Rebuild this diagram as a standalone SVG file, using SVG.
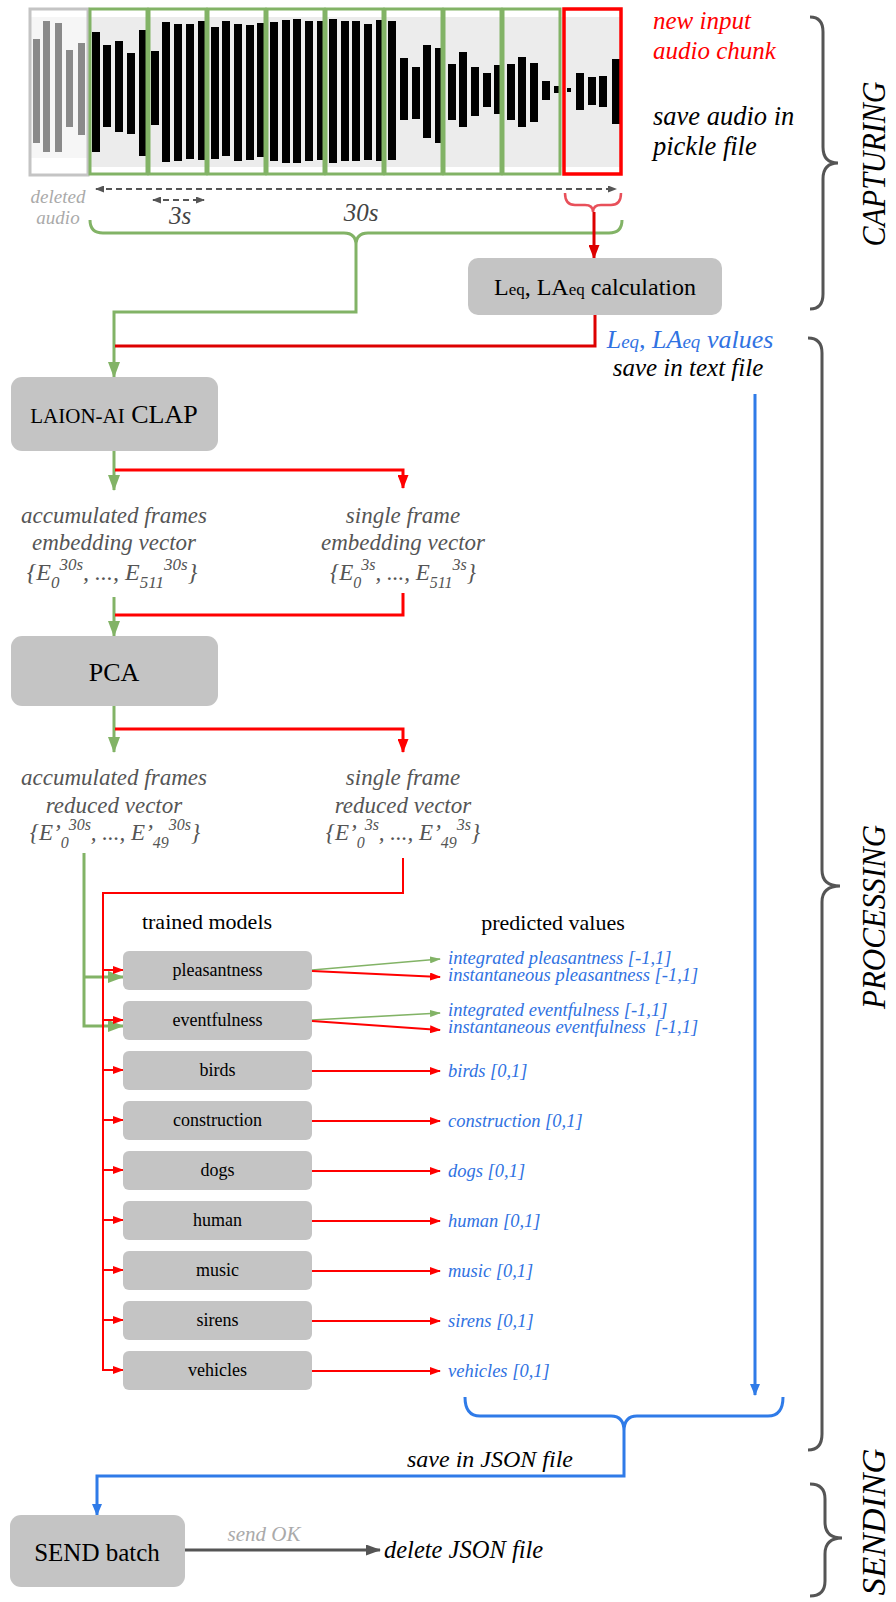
<svg xmlns="http://www.w3.org/2000/svg" width="896" height="1602" viewBox="0 0 896 1602" font-family="'Liberation Serif', 'Times New Roman', serif">
<defs>
<style>
text{font-family:"Liberation Serif","Times New Roman",serif;}
.it{font-style:italic}
.box{fill:#c4c4c4}
.g{stroke:#82b366;fill:none;stroke-width:3}
.gs{stroke:#82b366;fill:none;stroke-width:1.6}
.r{stroke:#ff0000;fill:none;stroke-width:3}
.rd{stroke:#dd0000;fill:none;stroke-width:3}
.r2{stroke:#ff0000;fill:none;stroke-width:2}
.b{stroke:#2f7be8;fill:none;stroke-width:3}
.brace{stroke:#555;fill:none;stroke-width:3}
.bar{fill:#000}
.dbar{fill:#8a8a8a}
.grt{fill:#555}
.blu{fill:#3072e2}
.lab{font-size:18px;fill:#000}
.pv{font-size:18.5px;fill:#3072e2;font-style:italic}
.gbox{fill:none;stroke:#82b366;stroke-width:3}
</style>
<marker id="mG" viewBox="0 0 16 12" refX="15" refY="6" markerWidth="16" markerHeight="12" markerUnits="userSpaceOnUse" orient="auto"><path d="M0,0 L16,6 L0,12 z" fill="#82b366"/></marker>
<marker id="mGs" viewBox="0 0 11 7" refX="10" refY="3.5" markerWidth="11" markerHeight="7" markerUnits="userSpaceOnUse" orient="auto"><path d="M0,0 L11,3.5 L0,7 z" fill="#82b366"/></marker>
<marker id="mR" viewBox="0 0 14 11" refX="13" refY="5.5" markerWidth="14" markerHeight="11" markerUnits="userSpaceOnUse" orient="auto"><path d="M0,0 L14,5.5 L0,11 z" fill="#ff0000"/></marker>
<marker id="mRd" viewBox="0 0 14 11" refX="13" refY="5.5" markerWidth="14" markerHeight="11" markerUnits="userSpaceOnUse" orient="auto"><path d="M0,0 L14,5.5 L0,11 z" fill="#dd0000"/></marker>
<marker id="mRs" viewBox="0 0 11 8" refX="10" refY="4" markerWidth="11" markerHeight="8" markerUnits="userSpaceOnUse" orient="auto"><path d="M0,0 L11,4 L0,8 z" fill="#ff0000"/></marker>
<marker id="mB" viewBox="0 0 12 10" refX="11" refY="5" markerWidth="12" markerHeight="10" markerUnits="userSpaceOnUse" orient="auto"><path d="M0,0 L12,5 L0,10 z" fill="#2f7be8"/></marker>
<marker id="mK" viewBox="0 0 15 11" refX="14" refY="5.5" markerWidth="15" markerHeight="11" markerUnits="userSpaceOnUse" orient="auto"><path d="M0,0 L15,5.5 L0,11 z" fill="#555"/></marker>
<marker id="mD" viewBox="0 0 9 7" refX="8" refY="3.5" markerWidth="9" markerHeight="7" markerUnits="userSpaceOnUse" orient="auto-start-reverse"><path d="M0,0 L9,3.5 L0,7 z" fill="#555"/></marker>
</defs>
<rect width="896" height="1602" fill="#fff"/>

<g id="audio">
<rect x="30" y="17" width="58" height="141" fill="#f6f6f6"/>
<rect x="90" y="17" width="531" height="150" fill="#ececec"/>
<rect class="dbar" x="33" y="39" width="7" height="104"/>
<rect class="dbar" x="43" y="21" width="7" height="131"/>
<rect class="dbar" x="55" y="23" width="7" height="129"/>
<rect class="dbar" x="66" y="50" width="7" height="77"/>
<rect class="dbar" x="78" y="43" width="7" height="92"/>
<rect class="bar" x="92" y="32" width="8" height="120"/>
<rect class="bar" x="103" y="45" width="8" height="82"/>
<rect class="bar" x="115" y="41" width="8" height="91"/>
<rect class="bar" x="127" y="53" width="8" height="81"/>
<rect class="bar" x="139" y="30" width="8" height="126"/>
<rect class="bar" x="151" y="51" width="8" height="74"/>
<rect class="bar" x="162" y="22" width="8" height="140"/>
<rect class="bar" x="174" y="24" width="8" height="137"/>
<rect class="bar" x="186" y="24" width="8" height="135"/>
<rect class="bar" x="198" y="21" width="8" height="139"/>
<rect class="bar" x="211" y="27" width="8" height="132"/>
<rect class="bar" x="222" y="21" width="8" height="135"/>
<rect class="bar" x="234" y="24" width="8" height="137"/>
<rect class="bar" x="246" y="25" width="8" height="135"/>
<rect class="bar" x="257" y="23" width="8" height="134"/>
<rect class="bar" x="270" y="22" width="8" height="139"/>
<rect class="bar" x="282" y="20" width="8" height="143"/>
<rect class="bar" x="293" y="19" width="8" height="144"/>
<rect class="bar" x="305" y="21" width="8" height="140"/>
<rect class="bar" x="317" y="21" width="8" height="139"/>
<rect class="bar" x="329" y="19" width="8" height="144"/>
<rect class="bar" x="341" y="21" width="8" height="140"/>
<rect class="bar" x="352" y="21" width="8" height="140"/>
<rect class="bar" x="364" y="24" width="8" height="136"/>
<rect class="bar" x="376" y="20" width="8" height="141"/>
<rect class="bar" x="388" y="21" width="8" height="139"/>
<rect class="bar" x="400" y="58" width="8" height="62"/>
<rect class="bar" x="412" y="67" width="8" height="52"/>
<rect class="bar" x="423" y="45" width="8" height="93"/>
<rect class="bar" x="435" y="48" width="8" height="95"/>
<rect class="bar" x="448" y="64" width="8" height="56"/>
<rect class="bar" x="459" y="52" width="8" height="75"/>
<rect class="bar" x="471" y="67" width="8" height="49"/>
<rect class="bar" x="483" y="73" width="8" height="34"/>
<rect class="bar" x="494" y="65" width="8" height="49"/>
<rect class="bar" x="507" y="64" width="8" height="56"/>
<rect class="bar" x="518" y="57" width="8" height="70"/>
<rect class="bar" x="530" y="63" width="8" height="59"/>
<rect class="bar" x="542" y="81" width="8" height="19"/>
<rect class="bar" x="554" y="86" width="7" height="7"/>
<rect class="bar" x="567" y="88" width="4" height="4"/>
<rect class="bar" x="576" y="73" width="8" height="37"/>
<rect class="bar" x="588" y="77" width="8" height="28"/>
<rect class="bar" x="599" y="76" width="8" height="31"/>
<rect class="bar" x="612" y="59" width="8" height="65"/>
<rect x="30" y="9" width="58" height="166" fill="none" stroke="#c4c4c4" stroke-width="3"/>
<rect class="gbox" x="90" y="9" width="57" height="165"/>
<rect class="gbox" x="149" y="9" width="57" height="165"/>
<rect class="gbox" x="208" y="9" width="57" height="165"/>
<rect class="gbox" x="267" y="9" width="57" height="165"/>
<rect class="gbox" x="326" y="9" width="57" height="165"/>
<rect class="gbox" x="385" y="9" width="57" height="165"/>
<rect class="gbox" x="444" y="9" width="57" height="165"/>
<rect class="gbox" x="503" y="9" width="57" height="165"/>
<rect x="564" y="9" width="57" height="165" fill="none" stroke="#ff0000" stroke-width="3.5"/>
</g>

<g id="audio-labels">
<text class="it" x="653" y="29" font-size="25" fill="#ff0000">new input</text>
<text class="it" x="653" y="59" font-size="25" fill="#ff0000">audio chunk</text>
<text class="it" x="653" y="125" font-size="26.5" fill="#000">save audio in</text>
<text class="it" x="653" y="155" font-size="26.5" fill="#000">pickle file</text>
<text class="it" x="58" y="203" font-size="19" fill="#aaaaaa" text-anchor="middle">deleted</text>
<text class="it" x="58" y="224" font-size="19" fill="#aaaaaa" text-anchor="middle">audio</text>
<text class="it" x="180" y="224" font-size="25" fill="#444" text-anchor="middle">3s</text>
<text class="it" x="361" y="221" font-size="25" fill="#444" text-anchor="middle">30s</text>
</g>

<g id="braces">
<path d="M90,220 Q90,233 103,233 L344,233 Q356,233 356,245 Q356,233 368,233 L609,233 Q622,233 622,220" class="g"/>
<path d="M565,193 Q565,205 575,205 L585,205 Q593,205 593,212 Q593,205 601,205 L611,205 Q621,205 621,193" fill="none" stroke="#e8505a" stroke-width="2.5"/>
<path d="M465,1397 Q465,1416 480,1416 L611,1416 Q624,1416 624,1431 Q624,1416 637,1416 L768,1416 Q783,1416 783,1397" class="b"/>
<path d="M810,17 Q823,17 823,32 L823,147 Q823,163 838,163 Q823,163 823,179 L823,294 Q823,309 810,309" class="brace"/>
<path d="M808,338 Q822,338 822,353 L822,870 Q822,886 840,886 Q822,886 822,902 L822,1434 Q822,1450 808,1450" class="brace"/>
<path d="M810,1484 Q825,1484 825,1499 L825,1522 Q825,1538 842,1538 Q825,1538 825,1554 L825,1581 Q825,1596 810,1596" class="brace"/>
</g>

<g id="phase-labels">
<text class="it" transform="translate(885,164) rotate(-90)" font-size="33" text-anchor="middle" textLength="165" lengthAdjust="spacingAndGlyphs">CAPTURING</text>
<text class="it" transform="translate(885,917) rotate(-90)" font-size="33" text-anchor="middle" textLength="184" lengthAdjust="spacingAndGlyphs">PROCESSING</text>
<text class="it" transform="translate(885,1522) rotate(-90)" font-size="33" text-anchor="middle" textLength="147" lengthAdjust="spacingAndGlyphs">SENDING</text>
</g>

<g id="connectors">
<line x1="96" y1="189" x2="616" y2="189" stroke="#555" stroke-width="2" stroke-dasharray="6,4" marker-start="url(#mD)" marker-end="url(#mD)"/>
<line x1="153" y1="200" x2="204" y2="200" stroke="#555" stroke-width="2" stroke-dasharray="6,4" marker-start="url(#mD)" marker-end="url(#mD)"/>
<path d="M356,245 L356,312 L114,312 L114,377" class="g" marker-end="url(#mG)"/>
<path d="M594,212 L594,258" class="rd" stroke-width="2.5" marker-end="url(#mRd)"/>
<path d="M595,315 L595,346 L115,346" class="rd"/>
<path d="M114,451 L114,490" class="g" marker-end="url(#mG)"/>
<path d="M115,470 L403,470 L403,488" class="r" marker-end="url(#mR)"/>
<path d="M114,597 L114,636" class="g" marker-end="url(#mG)"/>
<path d="M403,593 L403,615 L115,615" class="r"/>
<path d="M114,706 L114,752" class="g" marker-end="url(#mG)"/>
<path d="M115,729 L403,729 L403,752" class="r" marker-end="url(#mR)"/>
<path d="M84,853 L84,1026 L123,1026" class="g" marker-end="url(#mG)"/>
<path d="M84,977 L123,977" class="g" marker-end="url(#mG)"/>
<path d="M403,858 L403,893 L103,893 L103,1370 L123,1370" class="r2" marker-end="url(#mRs)"/>
<path d="M103,970 L123,970" class="r2" marker-end="url(#mRs)"/>
<path d="M103,1020 L123,1020" class="r2" marker-end="url(#mRs)"/>
<path d="M103,1070 L123,1070" class="r2" marker-end="url(#mRs)"/>
<path d="M103,1120 L123,1120" class="r2" marker-end="url(#mRs)"/>
<path d="M103,1170 L123,1170" class="r2" marker-end="url(#mRs)"/>
<path d="M103,1220 L123,1220" class="r2" marker-end="url(#mRs)"/>
<path d="M103,1270 L123,1270" class="r2" marker-end="url(#mRs)"/>
<path d="M103,1320 L123,1320" class="r2" marker-end="url(#mRs)"/>
<path d="M312,970 L440,959" class="gs" marker-end="url(#mGs)"/>
<path d="M312,971 L440,977" class="r2" marker-end="url(#mRs)"/>
<path d="M312,1020 L440,1013" class="gs" marker-end="url(#mGs)"/>
<path d="M312,1021 L440,1030" class="r2" marker-end="url(#mRs)"/>
<path d="M312,1071 L440,1071" class="r2" marker-end="url(#mRs)"/>
<path d="M312,1121 L440,1121" class="r2" marker-end="url(#mRs)"/>
<path d="M312,1171 L440,1171" class="r2" marker-end="url(#mRs)"/>
<path d="M312,1221 L440,1221" class="r2" marker-end="url(#mRs)"/>
<path d="M312,1271 L440,1271" class="r2" marker-end="url(#mRs)"/>
<path d="M312,1321 L440,1321" class="r2" marker-end="url(#mRs)"/>
<path d="M312,1371 L440,1371" class="r2" marker-end="url(#mRs)"/>
<path d="M755,394 L755,1395" class="b" marker-end="url(#mB)"/>
<path d="M624,1431 L624,1476 L97,1476 L97,1515" class="b" marker-end="url(#mB)"/>
<path d="M185,1550 L380,1550" stroke="#555" stroke-width="3" fill="none" marker-end="url(#mK)"/>
</g>

<g id="leq">
<rect class="box" x="468" y="258" width="254" height="57" rx="10"/>
<text x="595" y="295" font-size="24" text-anchor="middle">L<tspan font-size="17">eq</tspan>, LA<tspan font-size="17">eq</tspan> calculation</text>
</g>
<g id="leq-values">
<text class="it blu" x="690" y="348" font-size="26" text-anchor="middle">L<tspan font-size="19">eq</tspan>, LA<tspan font-size="19">eq</tspan> values</text>
<text class="it" x="688" y="376" font-size="25" text-anchor="middle">save in text file</text>
</g>

<g id="clap">
<rect class="box" x="11" y="377" width="207" height="74" rx="11"/>
<text x="114" y="423" text-anchor="middle"><tspan font-size="21">LAION-AI</tspan><tspan font-size="26"> CLAP</tspan></text>
</g>

<g id="embed-acc">
<text class="it grt" x="114" y="523" font-size="23" text-anchor="middle">accumulated frames</text>
<text class="it grt" x="114" y="550" font-size="23" text-anchor="middle">embedding vector</text>
<text class="it grt" x="112" y="580" font-size="24" text-anchor="middle">{E<tspan font-size="17" dy="8">0</tspan><tspan font-size="17" dy="-18">30s</tspan><tspan dy="10">, ..., E</tspan><tspan font-size="17" dy="8">511</tspan><tspan font-size="17" dy="-18">30s</tspan><tspan dy="10">}</tspan></text>
</g>
<g id="embed-single">
<text class="it grt" x="403" y="523" font-size="23" text-anchor="middle">single frame</text>
<text class="it grt" x="403" y="550" font-size="23" text-anchor="middle">embedding vector</text>
<text class="it grt" x="403" y="580" font-size="23" text-anchor="middle">{E<tspan font-size="16" dy="8">0</tspan><tspan font-size="16" dy="-18">3s</tspan><tspan dy="10">, ..., E</tspan><tspan font-size="16" dy="8">511</tspan><tspan font-size="16" dy="-18">3s</tspan><tspan dy="10">}</tspan></text>
</g>

<g id="pca">
<rect class="box" x="11" y="636" width="207" height="70" rx="11"/>
<text x="114" y="681" font-size="26" text-anchor="middle">PCA</text>
</g>

<g id="reduced-acc">
<text class="it grt" x="114" y="785" font-size="23" text-anchor="middle">accumulated frames</text>
<text class="it grt" x="114" y="813" font-size="23" text-anchor="middle">reduced vector</text>
<text class="it grt" x="115" y="840" font-size="23" text-anchor="middle">{E’<tspan font-size="16" dy="8">0</tspan><tspan font-size="16" dy="-18">30s</tspan><tspan dy="10">, ..., E’</tspan><tspan font-size="16" dy="8">49</tspan><tspan font-size="16" dy="-18">30s</tspan><tspan dy="10">}</tspan></text>
</g>
<g id="reduced-single">
<text class="it grt" x="403" y="785" font-size="23" text-anchor="middle">single frame</text>
<text class="it grt" x="403" y="813" font-size="23" text-anchor="middle">reduced vector</text>
<text class="it grt" x="403" y="840" font-size="23" text-anchor="middle">{E’<tspan font-size="16" dy="8">0</tspan><tspan font-size="16" dy="-18">3s</tspan><tspan dy="10">, ..., E’</tspan><tspan font-size="16" dy="8">49</tspan><tspan font-size="16" dy="-18">3s</tspan><tspan dy="10">}</tspan></text>
</g>

<g id="headers">
<text x="207" y="929" font-size="22" text-anchor="middle">trained models</text>
<text x="553" y="930" font-size="22" text-anchor="middle">predicted values</text>
</g>

<g id="m-pleasantness"><rect class="box" x="123" y="951" width="189" height="39" rx="6"/><text class="lab" x="217.5" y="976" text-anchor="middle">pleasantness</text></g>
<g id="m-eventfulness"><rect class="box" x="123" y="1001" width="189" height="39" rx="6"/><text class="lab" x="217.5" y="1026" text-anchor="middle">eventfulness</text></g>
<g id="m-birds"><rect class="box" x="123" y="1051" width="189" height="39" rx="6"/><text class="lab" x="217.5" y="1076" text-anchor="middle">birds</text></g>
<g id="m-construction"><rect class="box" x="123" y="1101" width="189" height="39" rx="6"/><text class="lab" x="217.5" y="1126" text-anchor="middle">construction</text></g>
<g id="m-dogs"><rect class="box" x="123" y="1151" width="189" height="39" rx="6"/><text class="lab" x="217.5" y="1176" text-anchor="middle">dogs</text></g>
<g id="m-human"><rect class="box" x="123" y="1201" width="189" height="39" rx="6"/><text class="lab" x="217.5" y="1226" text-anchor="middle">human</text></g>
<g id="m-music"><rect class="box" x="123" y="1251" width="189" height="39" rx="6"/><text class="lab" x="217.5" y="1276" text-anchor="middle">music</text></g>
<g id="m-sirens"><rect class="box" x="123" y="1301" width="189" height="39" rx="6"/><text class="lab" x="217.5" y="1326" text-anchor="middle">sirens</text></g>
<g id="m-vehicles"><rect class="box" x="123" y="1351" width="189" height="39" rx="6"/><text class="lab" x="217.5" y="1376" text-anchor="middle">vehicles</text></g>

<g id="predicted">
<text class="pv" x="448" y="964">integrated pleasantness [-1,1]</text>
<text class="pv" x="448" y="981">instantaneous pleasantness [-1,1]</text>
<text class="pv" x="448" y="1016">integrated eventfulness [-1,1]</text>
<text class="pv" x="448" y="1033">instantaneous eventfulness <tspan dx="4">[-1,1]</tspan></text>
<text class="pv" x="448" y="1077">birds [0,1]</text>
<text class="pv" x="448" y="1127">construction [0,1]</text>
<text class="pv" x="448" y="1177">dogs [0,1]</text>
<text class="pv" x="448" y="1227">human [0,1]</text>
<text class="pv" x="448" y="1277">music [0,1]</text>
<text class="pv" x="448" y="1327">sirens [0,1]</text>
<text class="pv" x="448" y="1377">vehicles [0,1]</text>
</g>

<g id="json">
<text class="it" x="490" y="1467" font-size="24" text-anchor="middle">save in JSON file</text>
</g>

<g id="send">
<rect class="box" x="10" y="1515" width="175" height="72" rx="11"/>
<text x="97" y="1561" font-size="25" text-anchor="middle">SEND batch</text>
</g>
<g id="send-ok">
<text class="it" x="264" y="1541" font-size="21" fill="#aaaaaa" text-anchor="middle">send OK</text>
<text class="it" x="384" y="1558" font-size="24.5">delete JSON file</text>
</g>
</svg>
